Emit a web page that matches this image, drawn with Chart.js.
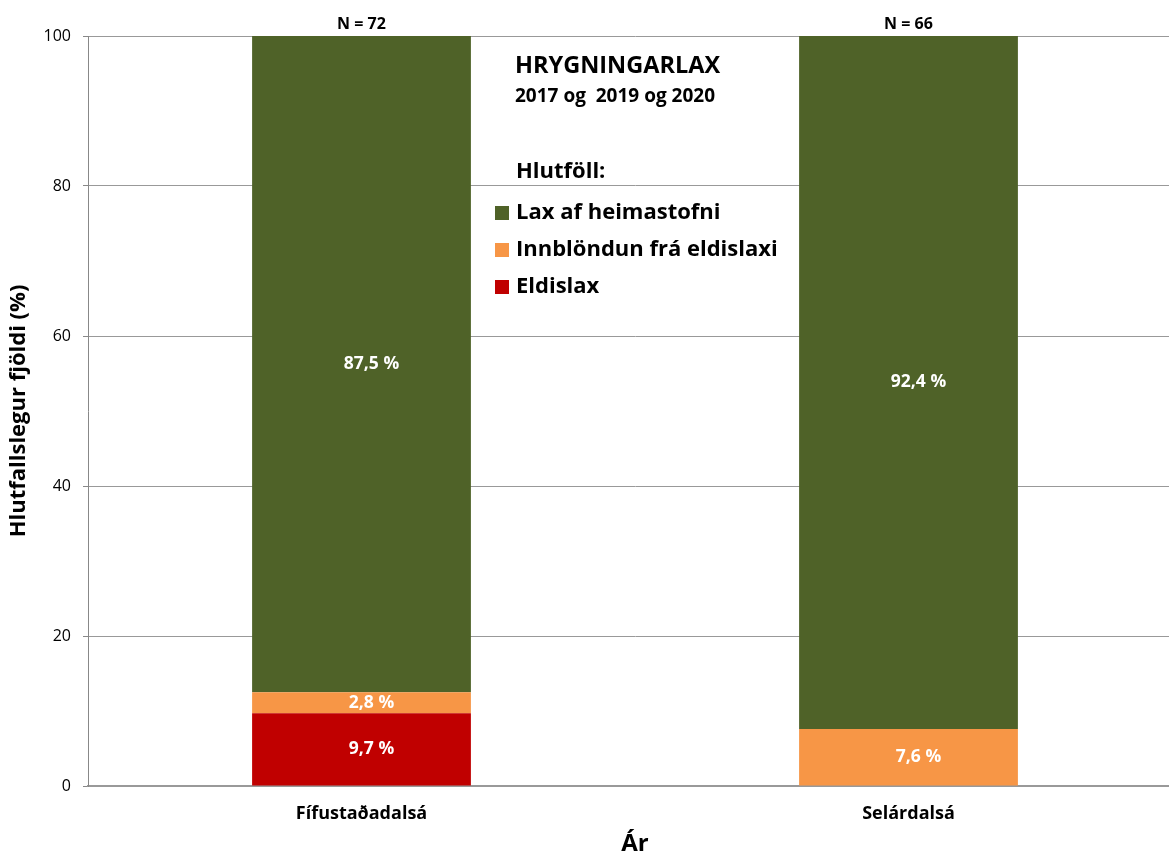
<!DOCTYPE html>
<html>
<head>
<meta charset="utf-8">
<script src="https://cdn.jsdelivr.net/npm/chart.js@4/dist/chart.umd.min.js"></script>
<style>
  html, body { margin: 0; padding: 0; background: #fff; overflow: hidden; }
  #wrap { width: 1169px; height: 853px; overflow: hidden; }
</style>
</head>
<body>
<div id="wrap"><canvas id="laxChart" width="1182" height="853"></canvas></div>
<script>
// rivers and sample sizes
var rivers = ['Fífustaðadalsá', 'Selárdalsá'];
var sampleN = [72, 66];

// proportions (%) per group
var eldislax = [9.7, 0];
var innblondun = [2.8, 7.6];
var heimastofn = [87.5, 92.4];

var yTicks = [0, 20, 40, 60, 80, 100];

var FONT = '"Open Sans", Lato, sans-serif';

function fmt(v) {
    return v.toFixed(1).replace('.', ',') + ' %';
}

// white value labels inside each segment + N above each stack
var barLabels = {
    id: 'barLabels',
    afterDatasetsDraw: function (chart) {
        var ctx = chart.ctx;
        ctx.save();
        ctx.textAlign = 'center';
        ctx.textBaseline = 'middle';
        ctx.font = 'bold 17.5px ' + FONT;
        ctx.fillStyle = '#fff';
        chart.data.datasets.forEach(function (ds, i) {
            chart.getDatasetMeta(i).data.forEach(function (bar, j) {
                var v = ds.data[j];
                if (!v) return;
                var mid = (bar.y + bar.base) / 2;
                ctx.fillText(fmt(v), bar.x + 10, mid);
            });
        });
        ctx.fillStyle = '#000';
        ctx.font = 'bold 16px ' + FONT;
        var top = chart.getDatasetMeta(chart.data.datasets.length - 1).data;
        top.forEach(function (bar, j) {
            ctx.fillText('N = ' + sampleN[j], bar.x, bar.y - 12);
        });
        ctx.restore();
    }
};

// heading and legend sit inside the plot, between the bars
var innerLegend = {
    id: 'innerLegend',
    afterDraw: function (chart) {
        var ctx = chart.ctx;
        var x = chart.chartArea.left + 427;
        ctx.save();
        ctx.fillStyle = '#000';
        ctx.textAlign = 'left';
        ctx.textBaseline = 'middle';
        ctx.font = 'bold 23.5px ' + FONT;
        ctx.fillText('HRYGNINGARLAX', x, 66);
        ctx.font = 'bold 19px ' + FONT;
        ctx.fillText('2017 og  2019 og 2020', x, 97);
        ctx.font = 'bold 22px ' + FONT;
        ctx.fillText('Hlutföll:', x + 1, 172);
        var items = chart.data.datasets.slice().reverse();
        items.forEach(function (ds, k) {
            var y = 213 + k * 37;
            ctx.fillStyle = ds.backgroundColor;
            ctx.fillRect(x - 20, y - 7, 14, 14);
            ctx.fillStyle = '#000';
            ctx.fillText(ds.label, x + 1, y);
        });
        ctx.restore();
    }
};

new Chart(document.getElementById('laxChart'), {
    type: 'bar',
    data: {
        labels: rivers,
        datasets: [
            { label: 'Eldislax', data: eldislax, backgroundColor: '#C00000' },
            { label: 'Innblöndun frá eldislaxi', data: innblondun, backgroundColor: '#F79646' },
            { label: 'Lax af heimastofni', data: heimastofn, backgroundColor: '#4F6228' }
        ]
    },
    options: {
        responsive: false,
        animation: false,
        layout: { padding: { top: 36, right: 0, left: 0, bottom: 0 } },
        datasets: { bar: { categoryPercentage: 1, barPercentage: 0.40 } },
        plugins: {
            legend: { display: false },
            tooltip: { enabled: false }
        },
        scales: {
            x: {
                stacked: true,
                grid: { display: false, drawTicks: false },
                border: { display: true, color: '#999', width: 2 },
                ticks: { color: '#000', padding: 17, font: { family: FONT, size: 18, weight: 'bold' } },
                title: { display: true, text: 'Ár', color: '#000', padding: { top: 0, bottom: -6 },
                         font: { family: FONT, size: 24, weight: 'bold' } },
                afterFit: function (s) { s.height = 67; }
            },
            y: {
                stacked: true,
                min: 0, max: 100,
                afterBuildTicks: function (s) { s.ticks = yTicks.map(function (v) { return { value: v }; }); },
                grid: { color: '#999', borderDash: [2, 2], tickLength: 5, tickColor: '#888', tickBorderDash: [] },
                border: { display: true, color: '#888', width: 1 },
                ticks: { color: '#000', padding: 12, font: { family: FONT, size: 16 } },
                title: { display: true, text: 'Hlutfallslegur fjöldi (%)', color: '#000', padding: { top: 6, bottom: 0 },
                         font: { family: FONT, size: 22, weight: 'bold' } },
                afterFit: function (s) { s.width = 88; }
            }
        }
    },
    plugins: [barLabels, innerLegend]
});
</script>
</body>
</html>
